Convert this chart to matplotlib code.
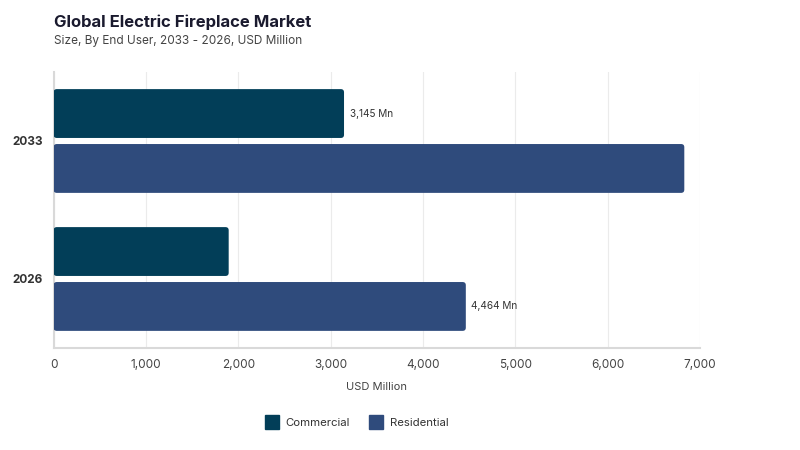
import matplotlib
matplotlib.use("Agg")
import matplotlib.pyplot as plt
from matplotlib.patches import FancyBboxPatch
from matplotlib.lines import Line2D
from matplotlib.ticker import FuncFormatter
import numpy as np

plt.rcParams['font.family'] = ['Inter', 'DejaVu Sans']

# data
years = ['2033', '2026']
series = ['Commercial', 'Residential']
commercial = [3145, 1896]
residential = [6830, 4464]
colors = ['#023e58', '#2f4b7c']
# which bars carry a value label: (series index, year index)
labelled = [(0, 0), (1, 1)]

fig = plt.figure(figsize=(8, 4.5), dpi=100)
ax = fig.add_axes([0.067, 0.2267, 0.808, 0.6133])

y = np.arange(len(years))
h = 0.354
offs = [-0.199, 0.199]
values = [commercial, residential]

for s, (vals, col) in enumerate(zip(values, colors)):
    bars = ax.barh(y + offs[s], vals, height=h, color=col, zorder=3)
    for b in bars:
        b.set_visible(False)
        x0, y0 = b.get_x(), b.get_y()
        w, hh = b.get_width(), b.get_height()
        ax.add_patch(FancyBboxPatch((x0, y0), w, hh,
                                    boxstyle="round,pad=0,rounding_size=35",
                                    mutation_aspect=0.00066,
                                    facecolor=col, edgecolor='none', zorder=3))

for s, i in labelled:
    v = values[s][i]
    ax.text(v + 60, y[i] + offs[s], f"{v:,} Mn", va='center', ha='left',
            fontsize=7.2, color='#333333')

ax.set_xlim(0, 7000)
ax.set_ylim(1.5, -0.5)
ax.set_xticks(np.arange(0, 7001, 1000))
ax.xaxis.set_major_formatter(FuncFormatter(lambda v, p: f"{int(v):,}"))
ax.set_yticks(y)
ax.set_yticklabels(years, fontweight='bold', fontsize=8.5, color='#333333')
ax.tick_params(axis='x', labelsize=8.5, labelcolor='#444444', length=0, pad=8)
ax.tick_params(axis='y', length=0, pad=8)
ax.grid(axis='x', color='#ebebeb', linewidth=0.8, zorder=0)
for sp in ['top', 'right']:
    ax.spines[sp].set_visible(False)
for sp in ['left', 'bottom']:
    ax.spines[sp].set_color('#d9d9d9')
    ax.spines[sp].set_linewidth(1.5)
ax.set_xlabel('USD Million', fontsize=8, color='#444444', labelpad=8)

fig.text(0.067, 0.951, 'Global Electric Fireplace Market', fontsize=12,
         fontweight='bold', color='#1a1a2e', va='center', ha='left')
fig.text(0.067, 0.909, 'Size, By End User, 2033 - 2026, USD Million', fontsize=8.5,
         color='#444444', va='center', ha='left')

handles = [Line2D([], [], marker='s', linestyle='none', markersize=10,
                  markerfacecolor=c, markeredgecolor=c) for c in colors]
fig.legend(handles, series, loc='center', bbox_to_anchor=(0.443, 0.06), ncol=2,
           frameon=False, fontsize=8.2, handletextpad=0.2, columnspacing=1.3,
           labelcolor='#333333')

fig.savefig('out.png', dpi=100)
